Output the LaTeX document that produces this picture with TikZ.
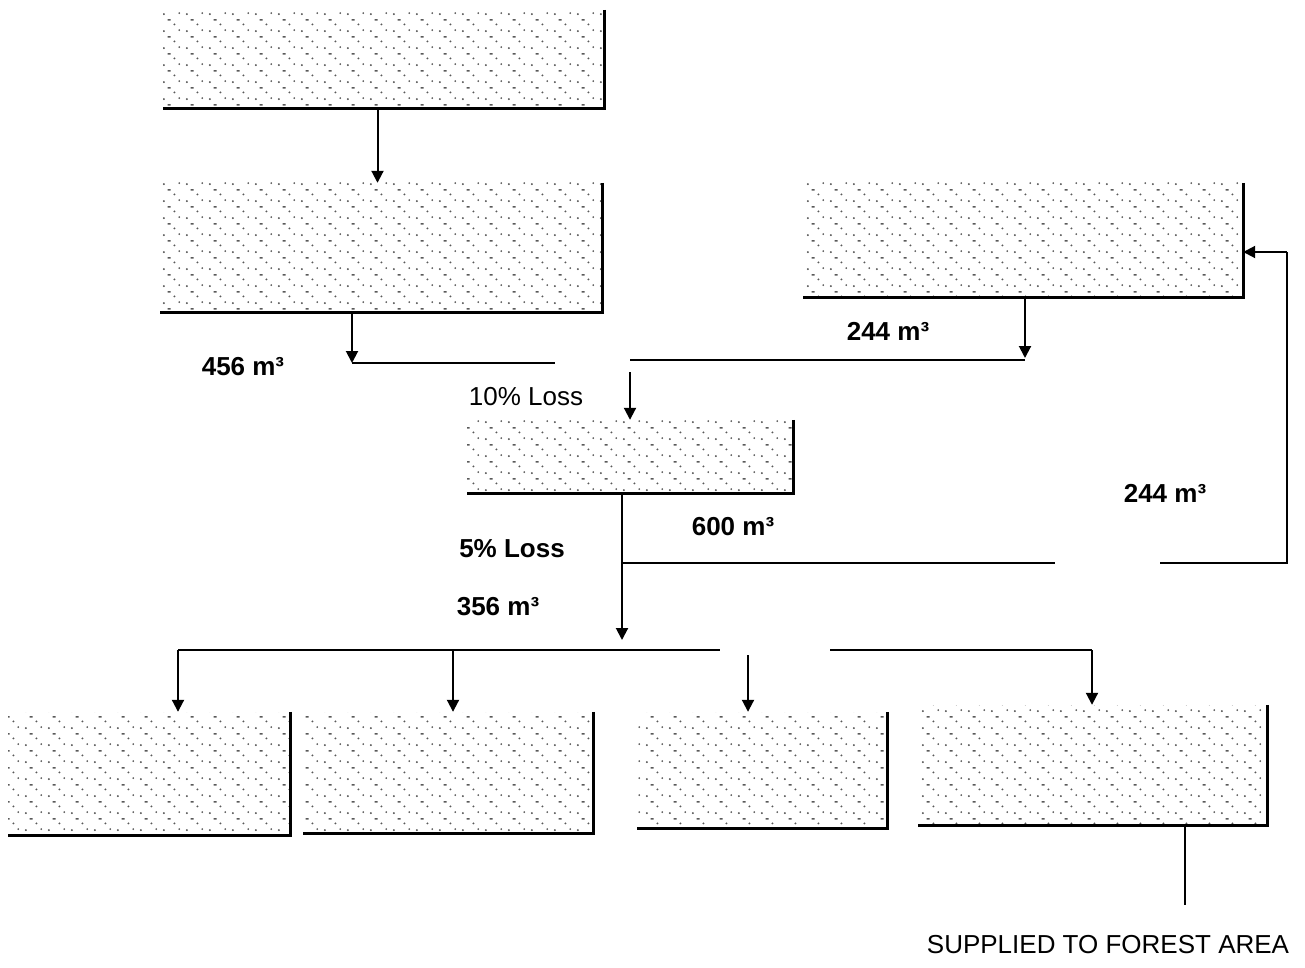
\documentclass[tikz,border=0pt]{standalone}
\usepackage{fontspec}
\setmainfont{Liberation Sans}
\usetikzlibrary{arrows.meta,patterns.meta}
\tikzdeclarepattern{
  name=speckle,
  type=uncolored,
  bottom left={(0pt,0pt)}, top right={(23pt,17pt)},
  tile size={(23pt,17pt)},
  code={
    \fill (3pt,2pt) circle (1.1pt);
    \fill (14pt,9pt) circle (1.1pt);
    \fill (7pt,13pt) rectangle +(3pt,1.6pt);
    \fill (19pt,3pt) circle (1pt);
  }
}
\tikzset{
  boxnode/.style={rectangle, inner sep=0pt, pattern={speckle}, pattern color=black!65},
  edge3/.style={line width=3pt},
  conn/.style={line width=2pt},
  arr/.style={line width=2pt, -{Triangle[width=12pt,length=12pt]}},
  lbl/.style={inner sep=0pt, font=\fontsize{26}{30}\selectfont\bfseries},
  lblr/.style={inner sep=0pt, font=\fontsize{26}{30}\selectfont},
}
\newcommand{\shadowbox}[1]{\draw[edge3] (#1.north east) -- (#1.south east) -- (#1.south west);}
\begin{document}
\begin{tikzpicture}[x=1pt,y=-1pt]
\useasboundingbox (0,0) rectangle (1305,968);
% boxes
\node[boxnode, minimum width=441pt, minimum height=98pt] (box1) at (383.5,59) {};
\node[boxnode, minimum width=442pt, minimum height=129pt] (box2) at (381,247.5) {};
\node[boxnode, minimum width=440pt, minimum height=114pt] (box4) at (1023,240) {};
\node[boxnode, minimum width=326pt, minimum height=73pt] (box3) at (630,456.5) {};
\node[boxnode, minimum width=282pt, minimum height=123pt] (b1) at (149,773.5) {};
\node[boxnode, minimum width=290pt, minimum height=121pt] (b2) at (448,772.5) {};
\node[boxnode, minimum width=250pt, minimum height=116pt] (b3) at (762,770) {};
\node[boxnode, minimum width=349pt, minimum height=120pt] (b4) at (1092.5,765) {};
\shadowbox{box1}
\shadowbox{box2}
\shadowbox{box4}
\shadowbox{box3}
\shadowbox{b1}
\shadowbox{b2}
\shadowbox{b3}
\shadowbox{b4}
% coordinates
\coordinate (j456) at (352,363);
\coordinate (l10e) at (555,363);
\coordinate (j630) at (630,360);
\coordinate (j1025) at (1025,358);
\coordinate (j622) at (622,563);
\coordinate (g1) at (1055,563);
\coordinate (g2) at (1160,563);
\coordinate (j1287) at (1287,563);
\coordinate (t1287) at (1287,252);
\coordinate (h622) at (622,640);
\coordinate (hL) at (178,650);
\coordinate (hM) at (720,650);
\coordinate (hR1) at (830,650);
\coordinate (hR) at (1092,650);
\coordinate (v748) at (748,655);
\coordinate (sup) at (1185,905);
% connectors
\draw[arr] ([xshift=-6pt]box1.south) -- ([xshift=-6pt]box1.south |- box2.north);
\draw[arr] ([xshift=-29pt]box2.south) -- (j456);
\draw[conn] (j456) -- (l10e);
\draw[conn] (j630) -- (j1025 |- j630);
\draw[arr] ([xshift=2pt]box4.south) -- (j1025);
\draw[arr] ([yshift=-12pt]j630) -- (box3.north);
\draw[arr] ([xshift=-8pt]box3.south) -- (h622);
\draw[conn] (j622) -- (g1);
\draw[conn] (g2) -- (j1287) -- (t1287);
\draw[arr] (t1287) -- (box4.east |- t1287);
\draw[conn] (hL) -- (hM);
\draw[conn] (hR1) -- (hR);
\draw[arr] (hL) -- (hL |- b1.north);
\draw[arr] (453,650) -- (453,0 |- b2.north);
\draw[arr] (v748) -- (v748 |- b3.north);
\draw[arr] (hR) -- (hR |- b4.north);
\draw[conn] (sup |- b4.south) -- (sup);
% labels
\node[lbl] (t456) at (243,367) {456 m³};
\node[lblr] (tl10) at (526,397) {10\% Loss};
\node[lbl] (t244a) at (888,331) {244 m³};
\node[lbl] (t244b) at (1165,493) {244 m³};
\node[lbl] (t600) at (733,527) {600 m³};
\node[lbl] (tl5) at (512,549) {5\% Loss};
\node[lbl] (t356) at (498,607) {356 m³};
\node[lblr] (tsup) at (1108,945) {SUPPLIED TO FOREST AREA};
\end{tikzpicture}
\end{document}
